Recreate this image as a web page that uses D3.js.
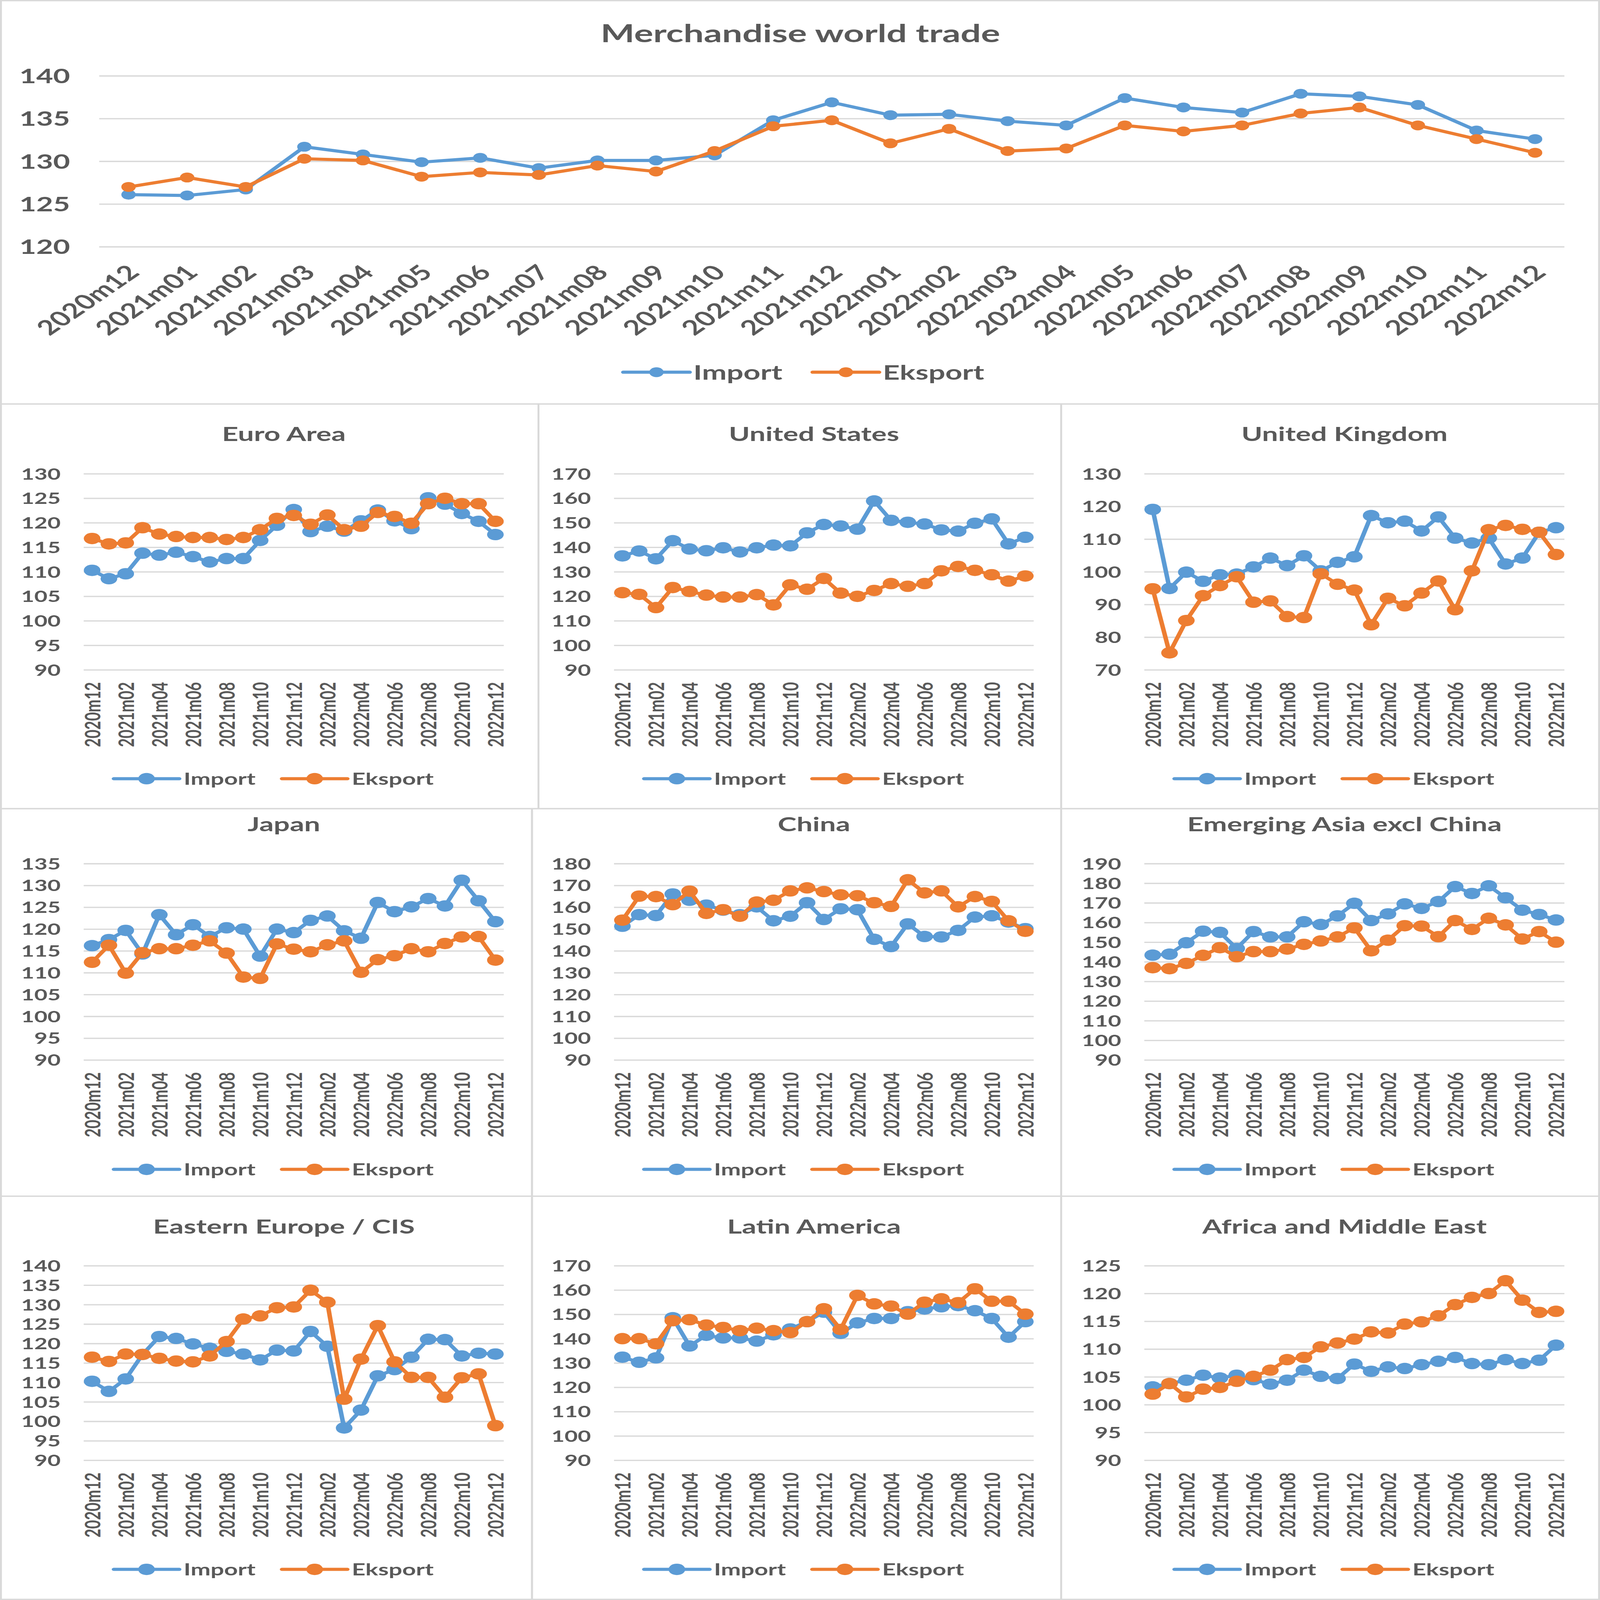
<!DOCTYPE html>
<html><head><meta charset="utf-8">
<script src="https://cdn.jsdelivr.net/npm/d3@7/dist/d3.min.js"></script>
<style>
html,body{margin:0;padding:0;background:#fff;overflow:hidden;}
#chart{display:block;width:100vw;height:100vh;}
svg text{font-family:Lato,'Open Sans',sans-serif;font-weight:700;fill:#595959;}
</style></head><body>
<svg id="chart" viewBox="0 0 4224 6160" preserveAspectRatio="none"></svg>
<script>
const months = ["2020m12","2021m01","2021m02","2021m03","2021m04","2021m05","2021m06","2021m07","2021m08","2021m09","2021m10","2021m11","2021m12","2022m01","2022m02","2022m03","2022m04","2022m05","2022m06","2022m07","2022m08","2022m09","2022m10","2022m11","2022m12"];
const seriesNames = ["Import","Eksport"];

const worldImport = [126.1,126.0,126.7,131.7,130.8,129.9,130.4,129.2,130.1,130.1,130.7,134.8,136.9,135.4,135.5,134.7,134.2,137.4,136.3,135.7,137.9,137.6,136.6,133.6,132.6];
const worldExport = [127.0,128.1,127.0,130.3,130.1,128.2,128.7,128.4,129.5,128.8,131.2,134.1,134.8,132.1,133.8,131.2,131.5,134.2,133.5,134.2,135.6,136.3,134.2,132.6,131.0];
const worldTicks = [120,125,130,135,140];

const euroImport = [110.3,108.6,109.6,113.8,113.4,114.0,113.1,112.0,112.7,112.7,116.4,119.5,122.7,118.2,119.3,118.3,120.4,122.6,120.4,118.8,125.1,123.8,121.9,120.3,117.6];
const euroExport = [116.8,115.7,115.9,119.0,117.7,117.2,117.0,117.0,116.6,117.0,118.6,120.9,121.5,119.7,121.6,118.6,119.3,122.1,121.3,119.9,123.9,125.0,123.9,123.9,120.3];
const euroTicks = [90,95,100,105,110,115,120,125,130];

const usImport = [136.5,138.5,135.3,142.7,139.3,138.6,139.8,138.1,139.8,140.9,140.6,145.9,149.3,148.7,147.4,158.9,151.0,150.2,149.5,147.1,146.6,149.8,151.6,141.4,144.1];
const usExport = [121.5,120.8,115.4,123.6,122.0,120.5,119.7,119.7,120.7,116.5,124.7,122.9,127.3,121.3,120.0,122.4,125.2,124.1,125.2,130.4,132.2,130.6,128.8,126.2,128.3];
const usTicks = [90,100,110,120,130,140,150,160,170];

const ukImport = [119.1,94.9,99.9,97.1,99.1,99.3,101.5,104.2,101.9,104.9,100.3,102.9,104.6,117.2,115.0,115.5,112.5,116.8,110.3,108.8,110.3,102.4,104.2,112.1,113.5];
const ukExport = [94.8,75.2,85.1,92.7,95.8,98.5,90.7,91.1,86.3,86.0,99.4,96.2,94.4,83.8,91.9,89.6,93.5,97.2,88.4,100.3,112.9,114.2,113.0,112.1,105.3];
const ukTicks = [70,80,90,100,110,120,130];

const japanImport = [116.2,117.6,119.7,114.3,123.3,118.7,121.0,118.3,120.3,120.0,113.8,120.0,119.2,122.0,123.0,119.6,117.9,126.1,124.0,125.1,127.0,125.3,131.2,126.5,121.7];
const japanExport = [112.4,116.3,109.9,114.6,115.5,115.5,116.3,117.3,114.5,109.0,108.7,116.6,115.4,114.8,116.4,117.3,110.1,113.0,113.9,115.5,114.8,116.7,118.2,118.3,112.9];
const japanTicks = [90,95,100,105,110,115,120,125,130,135];

const chinaImport = [151.3,156.6,156.2,166.1,163.2,161.0,158.7,156.6,160.2,153.8,155.9,162.1,154.4,159.3,158.9,145.3,142.0,152.4,146.6,146.4,149.4,155.5,156.1,153.2,150.2];
const chinaExport = [154.1,165.1,164.9,161.2,167.4,157.2,158.9,155.9,162.4,163.2,167.5,168.9,167.2,165.7,165.3,162.1,160.4,172.6,166.6,167.5,160.2,164.9,162.7,153.8,149.0];
const chinaTicks = [90,100,110,120,130,140,150,160,170,180];

const asiaImport = [143.4,143.9,149.7,155.6,155.0,146.8,155.4,152.7,152.7,160.4,159.0,163.4,169.8,161.0,164.4,169.5,167.2,170.7,178.3,174.8,178.7,172.6,166.3,164.1,161.3];
const asiaExport = [137.0,136.5,139.2,143.3,147.2,142.6,145.2,145.2,146.5,148.9,150.6,152.7,157.3,145.6,151.0,158.4,158.2,152.8,161.0,156.5,162.2,158.8,151.6,155.4,150.0];
const asiaTicks = [90,100,110,120,130,140,150,160,170,180,190];

const eeImport = [110.3,107.7,110.9,117.2,121.8,121.3,119.9,118.8,118.0,117.3,115.8,118.3,118.1,123.1,119.3,98.3,102.9,111.7,113.3,116.5,121.1,121.0,116.8,117.5,117.3];
const eeExport = [116.5,115.4,117.3,117.2,116.2,115.5,115.3,116.8,120.5,126.3,127.1,129.2,129.4,133.7,130.6,105.7,116.0,124.6,115.3,111.3,111.3,106.2,111.2,112.2,98.9];
const eeTicks = [90,95,100,105,110,115,120,125,130,135,140];

const latamImport = [132.4,130.3,132.1,148.6,137.0,141.4,140.3,140.3,139.0,141.6,144.0,147.0,150.9,142.2,146.5,148.3,148.3,151.1,152.2,153.1,153.6,151.5,148.3,140.6,147.0];
const latamExport = [140.0,140.0,137.9,147.4,147.8,145.6,144.6,143.3,144.3,143.3,142.5,147.0,152.3,143.8,157.8,154.3,153.4,150.1,155.0,156.4,154.8,160.5,155.4,155.4,150.1];
const latamTicks = [90,100,110,120,130,140,150,160,170];

const africaImport = [103.2,103.8,104.4,105.3,104.8,105.3,104.5,103.7,104.4,106.2,105.1,104.7,107.3,106.0,106.8,106.5,107.2,107.8,108.5,107.4,107.2,108.1,107.4,108.0,110.7];
const africaExport = [101.9,103.8,101.4,102.8,103.1,104.2,105.1,106.2,108.1,108.5,110.4,111.1,111.8,113.1,112.9,114.5,114.9,116.0,118.0,119.3,120.0,122.3,118.8,116.6,116.8];
const africaTicks = [90,95,100,105,110,115,120,125];

const panelTitles = ["Euro Area","United States","United Kingdom","Japan","China","Emerging Asia excl China","Eastern Europe / CIS","Latin America","Africa and Middle East"];

const BLUE = "#5B9BD5", ORANGE = "#ED7D31", GRID = "#D9D9D9";
const svg = d3.select("#chart");

function drawChart(o) {
  const [bx0, by0, bx1, by1] = o.box;
  const g = svg.append("g");
  g.append("rect").attr("x", bx0 + 2.5).attr("y", by0 + 2.5)
    .attr("width", bx1 - bx0 - 5).attr("height", by1 - by0 - 5)
    .attr("fill", "none").attr("stroke", GRID).attr("stroke-width", 5);

  const x = d3.scalePoint().domain(months).range([o.left, o.right]).padding(0.5);
  const y = d3.scaleLinear().domain([o.ticks[0], o.ticks[o.ticks.length - 1]]).range([o.bottom, o.top]);

  const ya = g.append("g").attr("transform", `translate(${o.left},0)`)
    .call(d3.axisLeft(y).tickValues(o.ticks).tickSize(-(o.right - o.left)).tickPadding(o.tickPad).tickFormat(d3.format("d")));
  ya.select(".domain").remove();
  ya.selectAll(".tick line").attr("stroke", GRID).attr("stroke-width", 5);
  ya.selectAll(".tick text").attr("font-size", o.tickFont).attr("dy", "0.36em");

  const xa = g.append("g").attr("transform", `translate(0,${o.bottom})`)
    .call(d3.axisBottom(x).tickValues(o.xTicks).tickSize(0).tickPadding(0));
  xa.select(".domain").remove();
  const xt = xa.selectAll(".tick text").attr("font-size", o.xFont).attr("text-anchor", "end").attr("dy", "0.36em");
  if (o.rot === -90) {
    xt.attr("transform", "rotate(-90)").attr("x", -o.labelGap).attr("y", 0);
  } else {
    xt.attr("x", 0).attr("y", 0).attr("transform", `translate(${o.labelDx},${o.labelGap}) rotate(-45)`);
  }

  const line = d3.line().x((d, i) => x(months[i])).y(d => y(d));
  [[o.imp, BLUE], [o.exp, ORANGE]].forEach(([data, c]) => {
    const sg = g.append("g");
    sg.append("path").datum(data).attr("d", line).attr("fill", "none")
      .attr("stroke", c).attr("stroke-width", o.lineW)
      .attr("stroke-linejoin", "round").attr("stroke-linecap", "round");
    sg.selectAll("circle").data(data).join("circle")
      .attr("cx", (d, i) => x(months[i])).attr("cy", d => y(d)).attr("r", o.r).attr("fill", c);
  });

  g.append("text").attr("x", o.titleX).attr("y", o.titleY).attr("text-anchor", "middle")
    .attr("font-size", o.titleFont).text(o.title);

  const lg = g.append("g");
  let cx = 0;
  seriesNames.forEach((name, i) => {
    const c = i === 0 ? BLUE : ORANGE;
    if (i > 0) cx += o.legItemGap;
    lg.append("line").attr("x1", cx).attr("x2", cx + o.legLine).attr("y1", 0).attr("y2", 0)
      .attr("stroke", c).attr("stroke-width", o.lineW).attr("stroke-linecap", "round");
    lg.append("circle").attr("cx", cx + o.legLine / 2).attr("cy", 0).attr("r", o.r).attr("fill", c);
    cx += o.legLine + o.legTextGap;
    const t = lg.append("text").attr("x", cx).attr("y", 0).attr("dy", "0.36em")
      .attr("font-size", o.legFont).text(name);
    cx += t.node().getComputedTextLength();
  });
  lg.attr("transform", `translate(${o.legCenter - cx / 2},${o.legY})`);
}

// Top chart
drawChart({
  box: [0, 0, 4224, 1558],
  left: 262, right: 4130, top: 292, bottom: 950,
  ticks: worldTicks, tickPad: 77, tickFont: 77,
  xTicks: months, xFont: 79, rot: -45, labelGap: 84, labelDx: 12,
  imp: worldImport, exp: worldExport,
  lineW: 12, r: 19,
  title: "Merchandise world trade", titleX: 2113, titleY: 162, titleFont: 95,
  legY: 1433, legCenter: 2122, legLine: 175, legTextGap: 10, legItemGap: 80, legFont: 78
});

const panelImports = [euroImport, usImport, ukImport, japanImport, chinaImport, asiaImport, eeImport, latamImport, africaImport];
const panelExports = [euroExport, usExport, ukExport, japanExport, chinaExport, asiaExport, eeExport, latamExport, africaExport];
const panelTicks = [euroTicks, usTicks, ukTicks, japanTicks, chinaTicks, asiaTicks, eeTicks, latamTicks, africaTicks];

const colPlot = [[221, 1330], [1621, 2729], [3021, 4130]];
const rowBox = [[1553, 3116], [3111, 4608], [4603, 6160]];
const rowCols = [[0, 1424, 2804, 4224], [0, 1407, 2804, 4224], [0, 1407, 2804, 4224]];
const rowPlot = [[1824, 2579], [3325, 4081], [4873, 5622]];
const rowTitleY = [1698, 3200, 4749];
const rowLegY = [2998, 4502, 6042];
const xLabelTicks = months.filter((m, i) => i % 2 === 0);

for (let k = 0; k < 9; k++) {
  const r = Math.floor(k / 3), c = k % 3;
  const [l, rt] = colPlot[c];
  const x0 = c === 0 ? 0 : rowCols[r][c] - 5;
  drawChart({
    box: [x0, rowBox[r][0], rowCols[r][c + 1], rowBox[r][1]],
    left: l, right: rt, top: rowPlot[r][0], bottom: rowPlot[r][1],
    ticks: panelTicks[k], tickPad: 61, tickFont: 60,
    xTicks: xLabelTicks, xFont: 58, rot: -90, labelGap: 47,
    imp: panelImports[k], exp: panelExports[k],
    lineW: 12, r: 22,
    title: panelTitles[k], titleX: (l + rt) / 2 - 26, titleY: rowTitleY[r], titleFont: 75,
    legY: rowLegY[r], legCenter: l + 502, legLine: 172, legTextGap: 12, legItemGap: 70, legFont: 63
  });
}
</script>
</body></html>
